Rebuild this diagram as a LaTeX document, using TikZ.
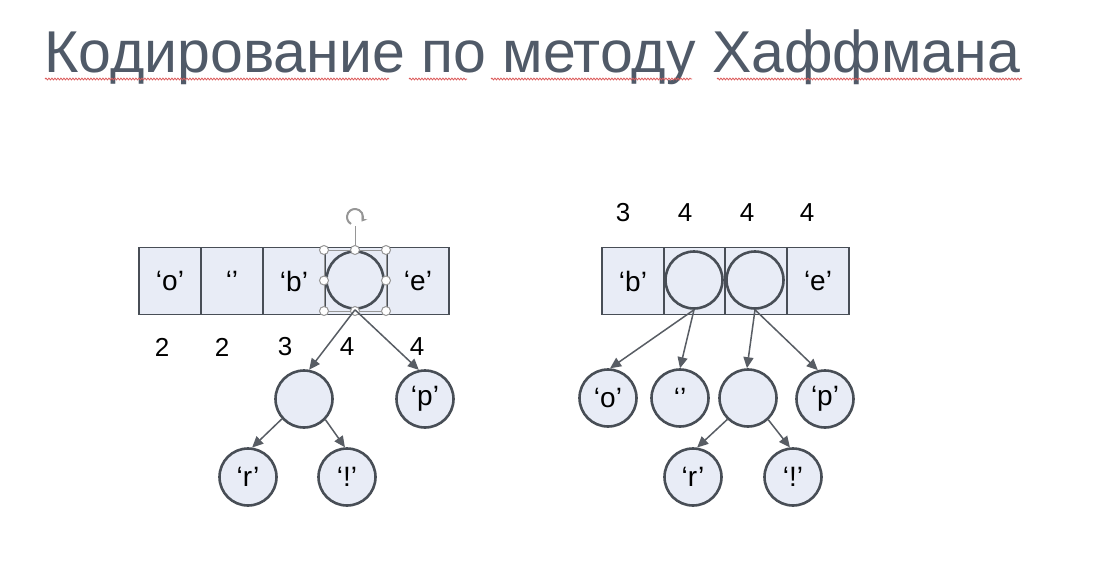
\documentclass[tikz,border=0pt]{standalone}
\usepackage{fontspec}
\setmainfont{Liberation Sans}
\usetikzlibrary{arrows.meta,decorations.pathmorphing}

\definecolor{titlec}{RGB}{80,90,104}
\definecolor{edgec}{RGB}{72,78,86}
\definecolor{cellfill}{RGB}{232,236,246}
\definecolor{linkc}{RGB}{88,93,100}
\definecolor{handlec}{RGB}{150,150,150}
\definecolor{spellc}{RGB}{220,90,90}

\begin{document}
\begin{tikzpicture}[x=1pt,y=-1pt,
  cell/.style={draw=edgec, fill=cellfill, line width=1.5pt, minimum width=62pt,
    minimum height=67pt, inner sep=0pt, font=\fontsize{28}{28}\selectfont},
  tnode/.style={circle, draw=edgec, fill=cellfill, line width=2.6pt, minimum size=57pt,
    inner sep=0pt, font=\fontsize{28}{28}\selectfont},
  link/.style={draw=linkc, line width=1.5pt, -{Triangle[length=11pt,width=10pt]}},
  num/.style={font=\fontsize{26}{26}\selectfont, inner sep=0pt},
  handle/.style={circle, draw=handlec, fill=white, line width=1pt, minimum size=9pt, inner sep=0pt},
  spell/.style={draw=spellc, line width=0.8pt, decorate,
    decoration={snake, amplitude=0.9pt, segment length=3pt}}
]
\useasboundingbox[fill=white] (0,0) rectangle (1093,574);

% title
\node[anchor=base west, inner sep=0pt, text=titlec, font=\fontsize{59}{59}\selectfont]
  (title) at (44,72) {Кодирование по методу Хаффмана};
\draw[spell] (45,79) -- (389,79);
\draw[spell] (409,79) -- (467,79);
\draw[spell] (491,79) -- (692,79);
\draw[spell] (717,79) -- (1022,79);

% ---------- left: queue of five entries ----------
\node[cell] (L1) at (170,281) {‘o’};
\node[cell] (L2) at (232,281) {‘’};
\node[cell] (L3) at (294,281) {‘b’};
\node[cell] (L4) at (356,281) {};
\node[cell] (L5) at (418,281) {‘e’};
\node[tnode] (Lc) at (355,280) {};

% selection frame around the combined node
\draw[handlec, line width=0.8pt] (324,250) rectangle (386,311);
\draw[handlec, line width=1pt] (355,250) -- (355,226);
\draw[handlec, line width=2pt, -{Stealth[length=5pt,width=7pt]}]
  (355,217) ++(120:8) arc[start angle=120, end angle=395, radius=8];
\foreach \hx/\hy [count=\i] in {324/250,355/250,386/250,324/280.5,386/280.5,324/311,355/311,386/311}
  \node[handle] (h\i) at (\hx,\hy) {};

% weights under the queue
\node[num] (w1) at (162,347) {2};
\node[num] (w2) at (222,347) {2};
\node[num] (w3) at (285,347) {3};
\node[num] (w4) at (347,347) {4};
\node[num] (w5) at (417,347) {4};

% left subtree
\node[tnode] (La) at (304,399) {};
\node[tnode] (Lp) at (425,399) {‘p’};
\node[tnode] (Lr) at (248,477) {‘r’};
\node[tnode] (Lx) at (347,477) {‘!’};

\draw[link] (Lc.south) -- (La.80);
\draw[link] (Lc.south) -- (Lp.102);
\draw[link] (La.222) -- (Lr.82);
\draw[link] (La.316) -- (Lx.94);

% ---------- right: queue of four entries ----------
\node[num] (v1) at (623,213) {3};
\node[num] (v2) at (685,213) {4};
\node[num] (v3) at (747,213) {4};
\node[num] (v4) at (807,213) {4};

\node[cell] (R1) at (633,281) {‘b’};
\node[cell] (R2) at (695,281) {};
\node[cell] (R3) at (756,281) {};
\node[cell] (R4) at (818,281) {‘e’};
\node[tnode] (Rc1) at (694,280) {};
\node[tnode] (Rc2) at (755,280) {};

\node[tnode] (Ro) at (608,398) {‘o’};
\node[tnode] (Rs) at (680,398) {‘’};
\node[tnode] (Rn) at (748,398) {};
\node[tnode] (Rp) at (825,399) {‘p’};
\node[tnode] (Rr) at (693,477) {‘r’};
\node[tnode] (Rx) at (793,477) {‘!’};

\draw[link] (Rc1.south) -- (Ro.86);
\draw[link] (Rc1.south) -- (Rs.90);
\draw[link] (Rc2.south) -- (Rn.92);
\draw[link] (Rc2.south) -- (Rp.104);
\draw[link] (Rn.226) -- (Rr.82);
\draw[link] (Rn.313) -- (Rx.96);
\end{tikzpicture}
\end{document}
